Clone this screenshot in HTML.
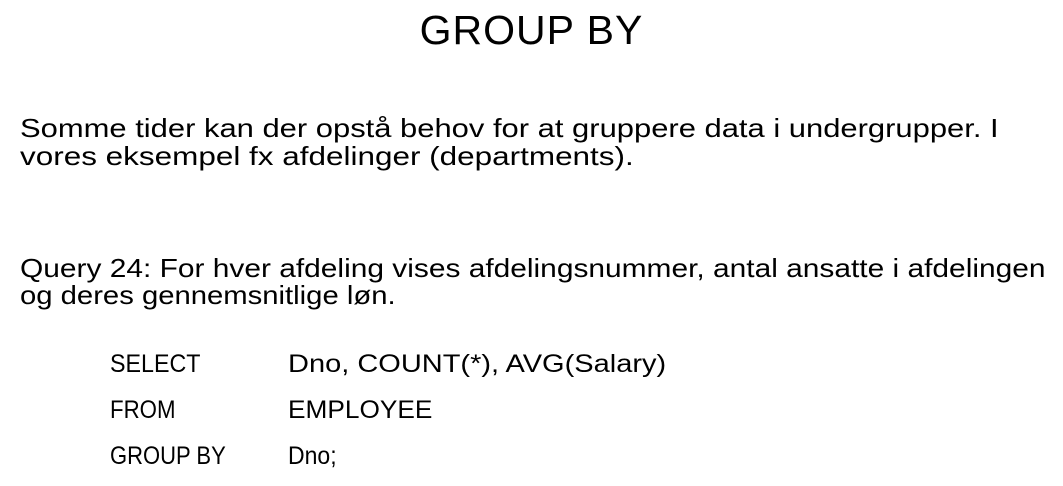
<!DOCTYPE html>
<html><head><meta charset="utf-8"><style>
html,body{margin:0;padding:0;background:#fff;}
body{width:1063px;height:486px;position:relative;overflow:hidden;font-family:"Liberation Sans",sans-serif;color:#000;}
.t{position:absolute;white-space:nowrap;transform-origin:0 50%;}
</style></head><body>
<div class="t" style="left:0;width:1063px;text-align:center;top:7px;font-size:41px;letter-spacing:1px;">GROUP BY</div>
<div class="t" style="left:20px;top:113px;font-size:26px;transform:scaleX(1.19);">Somme tider kan der opstå behov for at gruppere data i undergrupper. I</div>
<div class="t" style="left:20px;top:141px;font-size:26px;transform:scaleX(1.21);">vores eksempel fx afdelinger (departments).</div>
<div class="t" style="left:20px;top:253px;font-size:26px;transform:scaleX(1.15);">Query 24: For hver afdeling vises afdelingsnummer, antal ansatte i afdelingen</div>
<div class="t" style="left:20px;top:280px;font-size:26px;transform:scaleX(1.125);">og deres gennemsnitlige løn.</div>
<div class="t" style="left:110px;top:350px;font-size:25px;transform:scaleX(0.93);">SELECT</div>
<div class="t" style="left:288px;top:350px;font-size:25px;transform:scaleX(1.16);">Dno, COUNT(*), AVG(Salary)</div>
<div class="t" style="left:110px;top:396px;font-size:25px;transform:scaleX(0.89);">FROM</div>
<div class="t" style="left:288px;top:396px;font-size:25px;transform:scaleX(1.05);">EMPLOYEE</div>
<div class="t" style="left:110px;top:442px;font-size:25px;transform:scaleX(0.88);">GROUP BY</div>
<div class="t" style="left:288px;top:442px;font-size:25px;transform:scaleX(0.92);">Dno;</div>
</body></html>
